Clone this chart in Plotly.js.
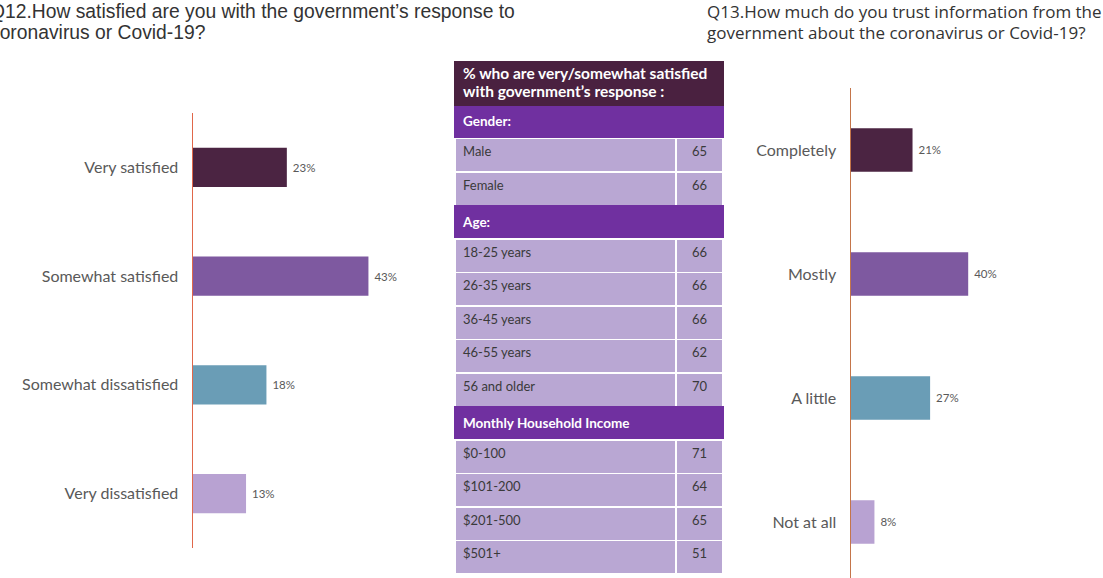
<!DOCTYPE html>
<html><head><meta charset="utf-8">
<script src="https://cdn.plot.ly/plotly-3.0.1.min.js"></script>
<style>html,body{margin:0;padding:0;background:#fff}</style>
</head><body><div id="chart" style="width:1103px;height:578px"></div>
<script>
// ---- data ----
const q12TitleLines = ["Q12.How satisfied are you with the government’s response to", "coronavirus or Covid-19?"];
const q12Categories = ["Very satisfied", "Somewhat satisfied", "Somewhat dissatisfied", "Very dissatisfied"];
const q12Values = [23, 43, 18, 13];

const q13TitleLines = ["Q13.How much do you trust information from the", "government about the coronavirus or Covid-19?"];
const q13Categories = ["Completely", "Mostly", "A little", "Not at all"];
const q13Values = [21, 40, 27, 8];

const barColors = ["#4b2442", "#7e59a0", "#6a9db6", "#b8a2d2"];

const tableTitleLines = ["% who are very/somewhat satisfied", "with government’s response :"];
const tableLabels = ["Gender:", "Male", "Female", "Age:", "18-25 years", "26-35 years", "36-45 years",
  "46-55 years", "56 and older", "Monthly Household Income", "$0-100", "$101-200", "$201-500", "$501+"];
const tableValues = ["", 65, 66, "", 66, 66, 66, 62, 70, "", 71, 64, 65, 51];
const tableRowType = ["section", "row", "row", "section", "row", "row", "row", "row", "row",
  "section", "row", "row", "row", "row"];

// ---- styling ----
const W = 1103, H = 578;
const px = v => v / W;
const py = v => 1 - v / H;
const FONT = "Lato, 'Noto Sans', sans-serif";
const labelGray = "#595959";
const titleGray = "#333333";
const sectionFill = "#7030a0";
const rowFill = "#b9a7d3";
const headFill = "#4a2140";

const isSection = tableRowType.map(t => t === "section");
const col1Text = tableLabels.map((l, i) => isSection[i] ? "<b>" + l + "</b>" : l);
const col2Text = tableValues.map(v => v === "" ? "" : String(v));
const fillCol = isSection.map(s => s ? sectionFill : rowFill);
const fontColCol = isSection.map(s => s ? "#ffffff" : "#3a3a3a");
const fontSizeCol = isSection.map(s => s ? 13.5 : 13);
const lineCol = isSection.map(s => s ? sectionFill : "#ffffff");

const traces = [
  {
    type: "bar", orientation: "h", x: q12Values, y: q12Categories,
    xaxis: "x", yaxis: "y", width: 0.36,
    marker: {color: barColors},
    texttemplate: "\u00a0%{x}%", textposition: "outside", cliponaxis: false,
    textfont: {family: FONT, size: 11.5, color: labelGray},
    hoverinfo: "skip", showlegend: false
  },
  {
    type: "bar", orientation: "h", x: q13Values, y: q13Categories,
    xaxis: "x2", yaxis: "y2", width: 0.35,
    marker: {color: barColors},
    texttemplate: "\u00a0%{x}%", textposition: "outside", cliponaxis: false,
    textfont: {family: FONT, size: 11.5, color: labelGray},
    hoverinfo: "skip", showlegend: false
  },
  {
    type: "table",
    domain: {x: [px(455), px(723)], y: [0, py(62)]},
    columnwidth: [221, 47],
    header: {
      values: ["", ""],
      fill: {color: headFill},
      line: {color: headFill, width: 1.5},
      font: {family: FONT, size: 14, color: "#ffffff"},
      height: 43
    },
    cells: {
      values: [col1Text, col2Text],
      fill: {color: [fillCol, fillCol]},
      line: {color: [lineCol, lineCol], width: 1.5},
      font: {family: FONT, size: [fontSizeCol, fontSizeCol], color: [fontColCol, fontColCol]},
      align: ["left", "center"], height: 33.5
    }
  }
];

const textAnn = (text, x, y, family, size, color) => ({
  text: text, xref: "paper", yref: "paper", x: px(x), y: py(y), xanchor: "left", yanchor: "middle",
  align: "left", showarrow: false, font: {family: family, size: size, color: color}
});
const LEFT_TITLE_FONT = "'Liberation Sans', Arial, sans-serif";
const RIGHT_TITLE_FONT = "'Open Sans', sans-serif";

const layout = {
  width: W, height: H,
  margin: {l: 0, r: 0, t: 0, b: 0},
  paper_bgcolor: "#ffffff", plot_bgcolor: "rgba(0,0,0,0)",
  font: {family: FONT, color: labelGray},
  showlegend: false,
  xaxis: {domain: [px(193), px(440)], range: [0, 247 / 4.08], visible: false, fixedrange: true},
  yaxis: {
    domain: [py(548), py(113)], type: "category", autorange: "reversed",
    showline: true, linecolor: "#e0674a", linewidth: 1.5, ticks: "", showgrid: false, zeroline: false,
    ticklabelstandoff: 10, tickfont: {family: FONT, size: 16, color: labelGray}
  },
  xaxis2: {domain: [px(851), 1], range: [0, 252 / 2.93], visible: false, fixedrange: true, anchor: "y2"},
  yaxis2: {
    domain: [0, py(88)], type: "category", range: [3.452, -0.5], anchor: "x2",
    showline: true, linecolor: "#c4754a", linewidth: 1.5, ticks: "", showgrid: false, zeroline: false,
    ticklabelstandoff: 10, tickfont: {family: FONT, size: 16, color: labelGray}
  },
  annotations: [
    textAnn(q12TitleLines[0], -12, 12, LEFT_TITLE_FONT, 19.3, titleGray),
    textAnn(q12TitleLines[1], -12, 33, LEFT_TITLE_FONT, 19.3, titleGray),
    textAnn(q13TitleLines[0], 705, 12, RIGHT_TITLE_FONT, 17, titleGray),
    textAnn(q13TitleLines[1], 705, 33, RIGHT_TITLE_FONT, 17, titleGray),
    textAnn("<b>" + tableTitleLines[0] + "</b>", 461, 73, FONT, 15.5, "#ffffff"),
    textAnn("<b>" + tableTitleLines[1] + "</b>", 461, 91, FONT, 15.5, "#ffffff")
  ]
};

Plotly.newPlot("chart", traces, layout, {displayModeBar: false, staticPlot: true});
</script>
</body></html>
